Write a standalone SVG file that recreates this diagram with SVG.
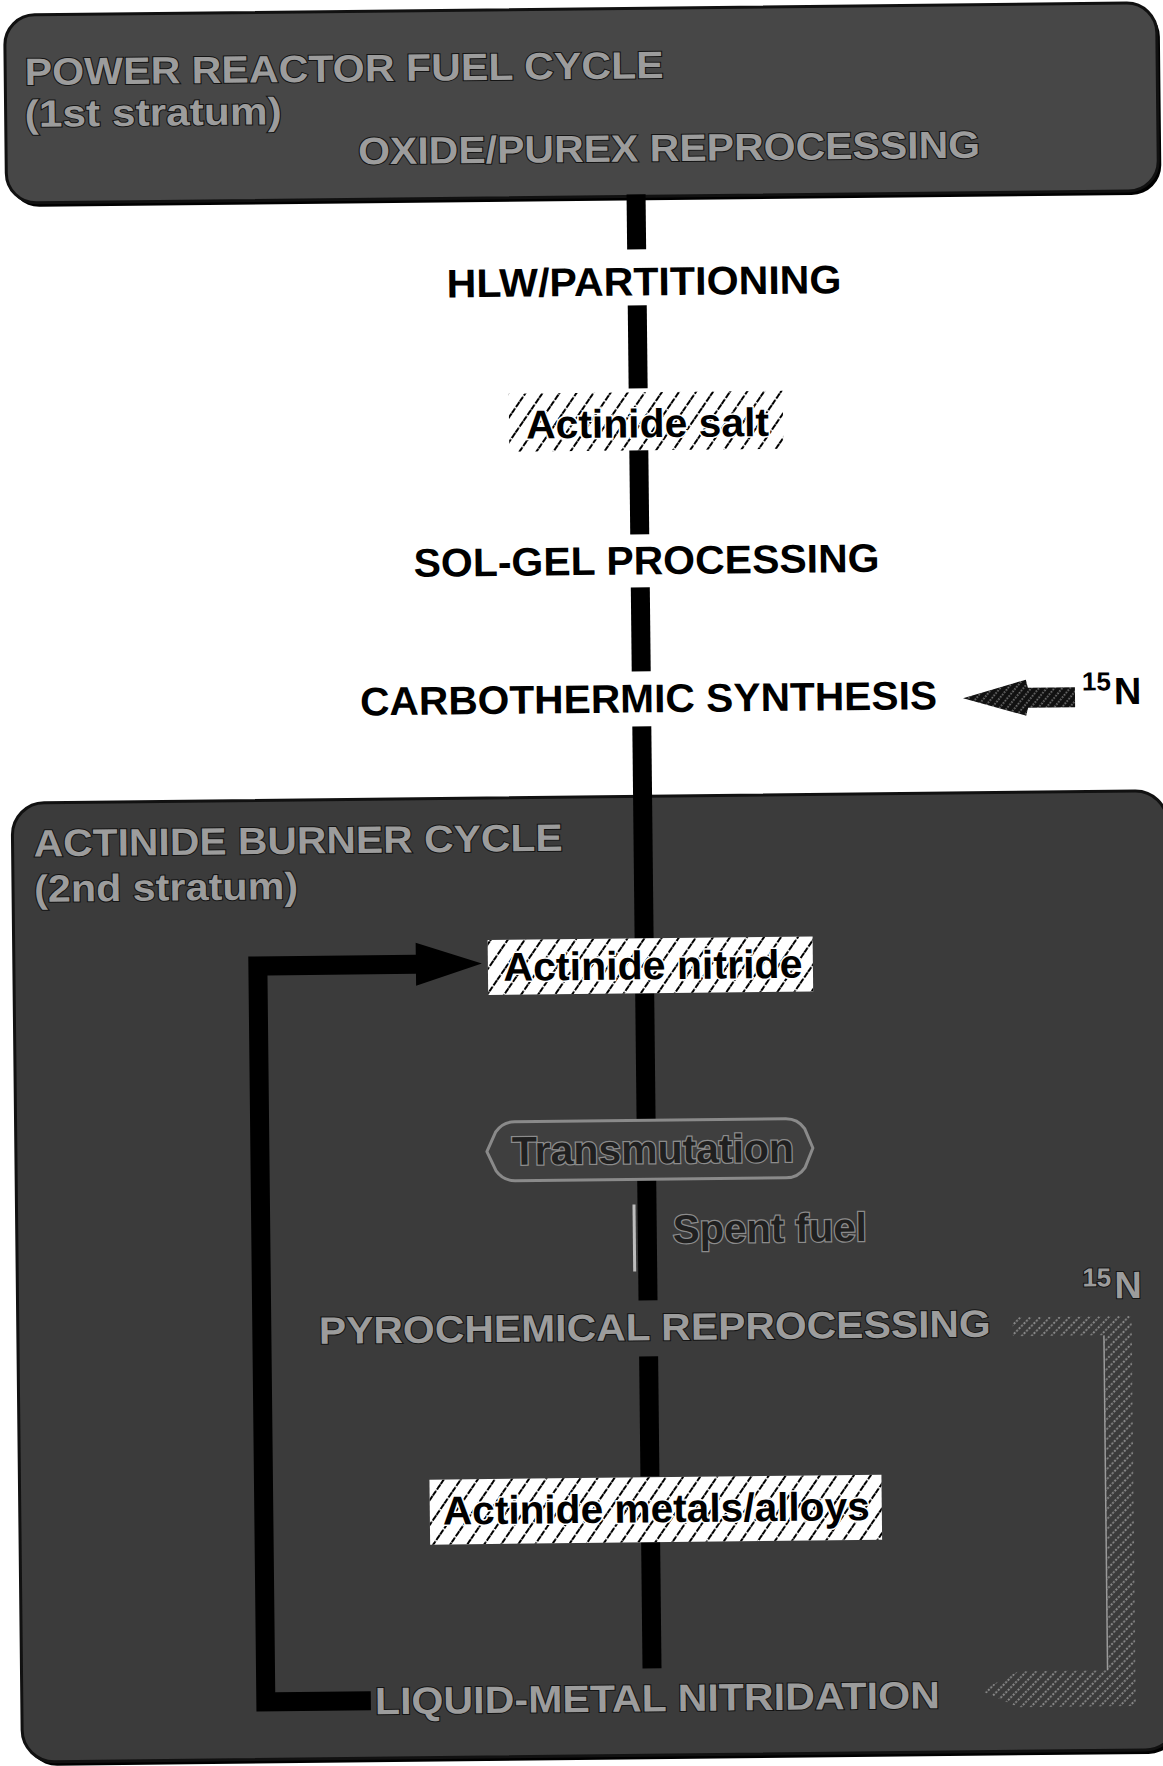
<svg xmlns="http://www.w3.org/2000/svg" width="1163" height="1766" viewBox="0 0 1163 1766">
<defs>
  <pattern id="hatch" patternUnits="userSpaceOnUse" width="14" height="14" patternTransform="rotate(35)">
    <line x1="2" y1="0" x2="2" y2="14" stroke="#000" stroke-width="2" stroke-dasharray="6 1.5"/>
  </pattern>
  <pattern id="hatchDark" patternUnits="userSpaceOnUse" width="6" height="6" patternTransform="rotate(40)">
    <rect width="6" height="6" fill="#111"/>
    <line x1="1" y1="0" x2="1" y2="6" stroke="#c8c8c8" stroke-width="1" stroke-dasharray="1.5 1.5"/>
  </pattern>
  <pattern id="hatchLight" patternUnits="userSpaceOnUse" width="7" height="7" patternTransform="rotate(45)">
    <line x1="1" y1="0" x2="1" y2="7" stroke="#a0a0a0" stroke-width="1.5" stroke-dasharray="2 1.5"/>
  </pattern>
</defs>
<style>
  .lbl{font-family:"Liberation Sans",Arial,Helvetica,sans-serif;font-weight:bold;font-size:40px;fill:#000}
  .ttl{font-size:38px;fill:#9c9c9c;stroke:#141414;stroke-width:2;paint-order:stroke}
  .ins{fill:#202020;stroke:#8c8c8c;stroke-width:2.5;paint-order:stroke}
  .hl{stroke:#fff;stroke-width:3;paint-order:stroke}
  .bar{fill:#000}
  .sup{font-size:26px}
  .nn{font-size:38px}
</style>
<rect width="1163" height="1766" fill="#fff"/>
<g transform="rotate(-0.62 581 883)">
  <g id="power-reactor-fuel-cycle">
    <rect x="17" y="13" width="1152" height="188" rx="30" fill="#000"/>
    <rect x="14" y="9" width="1152" height="188" rx="30" fill="#474747" stroke="#111" stroke-width="3"/>
    <text class="lbl ttl" x="33.5" y="79" textLength="639" lengthAdjust="spacingAndGlyphs">POWER REACTOR FUEL CYCLE</text>
    <text class="lbl ttl" x="33" y="121" textLength="257" lengthAdjust="spacingAndGlyphs">(1st stratum)</text>
    <text class="lbl ttl" x="366" y="162" textLength="622" lengthAdjust="spacingAndGlyphs">OXIDE/PUREX REPROCESSING</text>
  </g>
  <g id="actinide-burner-cycle">
    <rect x="16" y="801" width="1155" height="959" rx="32" fill="#000"/>
    <rect x="13" y="797" width="1155" height="959" rx="32" fill="#3b3b3b" stroke="#111" stroke-width="3"/>
    <text class="lbl ttl" x="34" y="850.5" textLength="529" lengthAdjust="spacingAndGlyphs">ACTINIDE BURNER CYCLE</text>
    <text class="lbl ttl" x="34" y="896" textLength="264" lengthAdjust="spacingAndGlyphs">(2nd stratum)</text>
  </g>
  <g id="connectors">
    <rect class="bar" x="634" y="195" width="19" height="55"/>
    <rect class="bar" x="634" y="306" width="19" height="83"/>
    <rect class="bar" x="634" y="451" width="19" height="84"/>
    <rect class="bar" x="634" y="588" width="19" height="84"/>
    <rect class="bar" x="634" y="727" width="19" height="212"/>
    <rect class="bar" x="634" y="994" width="19" height="128"/>
    <rect class="bar" x="634" y="1180" width="19" height="121"/>
    <rect x="629" y="1205" width="3" height="67" fill="#bdbdbd"/>
    <rect class="bar" x="634" y="1357" width="19" height="120"/>
    <rect class="bar" x="634" y="1542" width="19" height="127"/>
    <path id="loop-arrow" class="bar" d="M247.5,953 H415 V941 L481,962.5 L415,984 V972 H266.5 V1689 H362 V1708 H247.5 Z"/>
    <path id="n15-feed-arrow" d="M965,702.5 L1028,684.5 L1030,692.5 L1077,692.5 L1077,712.5 L1030,712.5 L1028,720.5 Z" fill="url(#hatchDark)"/>
    <path id="n15-recycle" d="M1008,1322 L1127,1322 L1127,1712 L1010,1712 L972,1695 L1010,1676 L1099,1676 L1099,1341 L1008,1341 Z" fill="url(#hatchLight)"/>
    <line x1="1099" y1="1341" x2="1099" y2="1676" stroke="#9a9a9a" stroke-width="1.5"/>
  </g>
  <g id="hlw-partitioning">
    <text class="lbl" x="453" y="296" textLength="395" lengthAdjust="spacingAndGlyphs">HLW/PARTITIONING</text>
  </g>
  <g id="actinide-salt">
    <rect x="514" y="393" width="274" height="58" fill="url(#hatch)"/>
    <text class="lbl hl" x="531" y="438" textLength="243" lengthAdjust="spacingAndGlyphs">Actinide salt</text>
  </g>
  <g id="sol-gel-processing">
    <text class="lbl" x="417" y="575" textLength="466" lengthAdjust="spacingAndGlyphs">SOL-GEL PROCESSING</text>
  </g>
  <g id="carbothermic-synthesis">
    <text class="lbl" x="362" y="713" textLength="577" lengthAdjust="spacingAndGlyphs">CARBOTHERMIC SYNTHESIS</text>
  </g>
  <g id="n15-top">
    <text class="lbl sup" x="1084" y="696">15</text>
    <text class="lbl nn" x="1116" y="710">N</text>
  </g>
  <g id="actinide-nitride">
    <rect x="487" y="939" width="325" height="55" fill="#fff"/>
    <rect x="487" y="939" width="325" height="55" fill="url(#hatch)"/>
    <text class="lbl hl" x="502.5" y="980" textLength="299" lengthAdjust="spacingAndGlyphs">Actinide nitride</text>
  </g>
  <g id="transmutation">
    <path d="M512,1121 H783 Q795,1121 802,1131 L810,1150.5 L802,1170 Q795,1180 783,1180 H512 Q500,1180 493,1170 L484,1150.5 L493,1131 Q500,1121 512,1121 Z" fill="#3f3f3f" stroke="#8a8a8a" stroke-width="3" stroke-linejoin="round"/>
    <text class="lbl ins" x="509" y="1164" textLength="282" lengthAdjust="spacingAndGlyphs">Transmutation</text>
  </g>
  <g id="spent-fuel">
    <text class="lbl ins" x="669" y="1244" textLength="194" lengthAdjust="spacingAndGlyphs">Spent fuel</text>
  </g>
  <g id="n15-bottom">
    <text class="lbl sup ttl" x="1078" y="1292">15</text>
    <text class="lbl nn ttl" x="1110" y="1304">N</text>
  </g>
  <g id="pyrochemical-reprocessing">
    <text class="lbl ttl" x="314" y="1341" textLength="672" lengthAdjust="spacingAndGlyphs">PYROCHEMICAL REPROCESSING</text>
  </g>
  <g id="actinide-metals-alloys">
    <rect x="423" y="1478" width="452" height="65" fill="#fff"/>
    <rect x="423" y="1478" width="452" height="65" fill="url(#hatch)"/>
    <text class="lbl hl" x="436" y="1523" textLength="427" lengthAdjust="spacingAndGlyphs">Actinide metals/alloys</text>
  </g>
  <g id="liquid-metal-nitridation">
    <text class="lbl ttl" x="366" y="1712" textLength="565" lengthAdjust="spacingAndGlyphs">LIQUID-METAL NITRIDATION</text>
  </g>
</g>
</svg>
